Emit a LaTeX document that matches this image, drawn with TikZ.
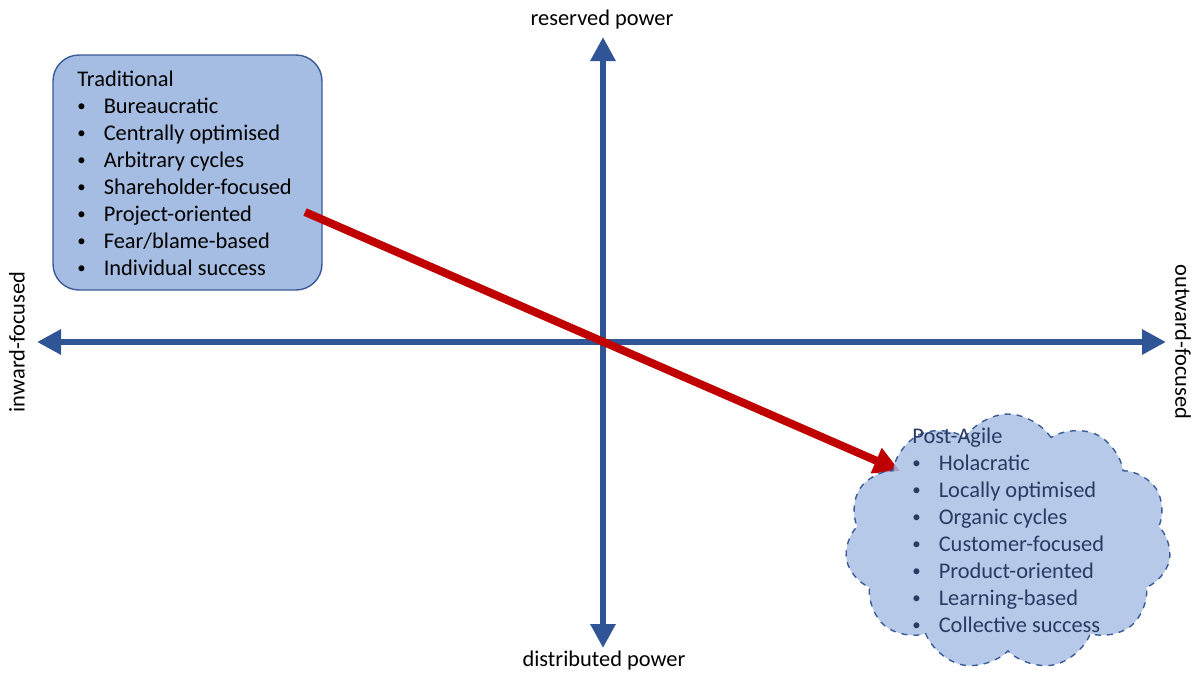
\documentclass[tikz,border=0pt]{standalone}
\usepackage{fontspec}
\setmainfont{Carlito}
\usetikzlibrary{arrows.meta,shapes.symbols}
\definecolor{axisblue}{HTML}{2F5597}
\definecolor{boxfill}{HTML}{A6BDE3}
\definecolor{boxline}{HTML}{3B5B99}
\definecolor{arrowred}{HTML}{C00000}
\definecolor{cloudtext}{HTML}{2A3B63}
\tikzset{
  axis/.style={line width=3pt, draw=axisblue, -{Triangle[length=12pt,width=12pt]}},
  axlabel/.style={font=\fontsize{11.2}{13}\selectfont, inner sep=0pt},
  tbox/.style={draw=boxline, fill=boxfill, line width=0.7pt, rounded corners=13pt},
  cloudbox/.style={cloud, cloud puffs=11, cloud puff arc=115, aspect=1.27, draw=boxline, dashed, line width=0.7pt, fill=boxfill, fill opacity=0.82},
  listtext/.style={font=\fontsize{11.2}{13.5}\selectfont, inner sep=0pt, anchor=north west, align=left},
  redarrow/.style={line width=4pt, draw=arrowred, -{Triangle[length=13pt,width=13pt]}}
}
\newcommand{\sbul}{\raisebox{0.15ex}{\scalebox{0.75}{•}}}
\newcommand{\blist}[8]{%
  \begin{tabular}{@{}p{13.2pt}@{}l@{}}
  \multicolumn{2}{@{}l@{}}{#1}\\
  \sbul&#2\\ \sbul&#3\\ \sbul&#4\\ \sbul&#5\\ \sbul&#6\\ \sbul&#7\\ \sbul&#8
  \end{tabular}}
\begin{document}
\begin{tikzpicture}[x=0.5pt,y=-0.5pt]
\useasboundingbox (0,0) rectangle (1196,675);
% axis labels
\node[axlabel] (top) at (602,20) {reserved power};
\node[axlabel] (bot) at (604,661) {distributed power};
\node[axlabel, rotate=90] (left) at (17,342) {inward-focused};
\node[axlabel, rotate=-90] (right) at (1183,342) {outward-focused};
% axes
\coordinate (O) at (603,342);
\coordinate (tT) at (603,37);
\coordinate (tB) at (603,648);
\coordinate (tL) at (37,342);
\coordinate (tR) at (1166,342);
\draw[axis] (O) -- (tT);
\draw[axis] (O) -- (tB);
\draw[axis] (O) -- (tL);
\draw[axis] (O) -- (tR);
% traditional box
\node[tbox, minimum width=134.5pt, minimum height=117.5pt] (trad) at (187.5,172.5) {};
\node[listtext] (tradtext) at (77,67) {\blist{Traditional}{Bureaucratic}{Centrally optimised}{Arbitrary cycles}{Shareholder-focused}{Project-oriented}{Fear/blame-based}{Individual success}};
% red arrow
\coordinate (rs) at (305,212);
\coordinate (re) at (900,471);
\draw[redarrow] (rs) -- (re);
% cloud
\node[cloudbox, minimum width=163pt, minimum height=128pt] (cloud) at (1008,542) {};
\node[listtext, text=cloudtext] (cloudtext) at (912,424) {\blist{Post-Agile}{Holacratic}{Locally optimised}{Organic cycles}{Customer-focused}{Product-oriented}{Learning-based}{Collective success}};
\end{tikzpicture}
\end{document}
